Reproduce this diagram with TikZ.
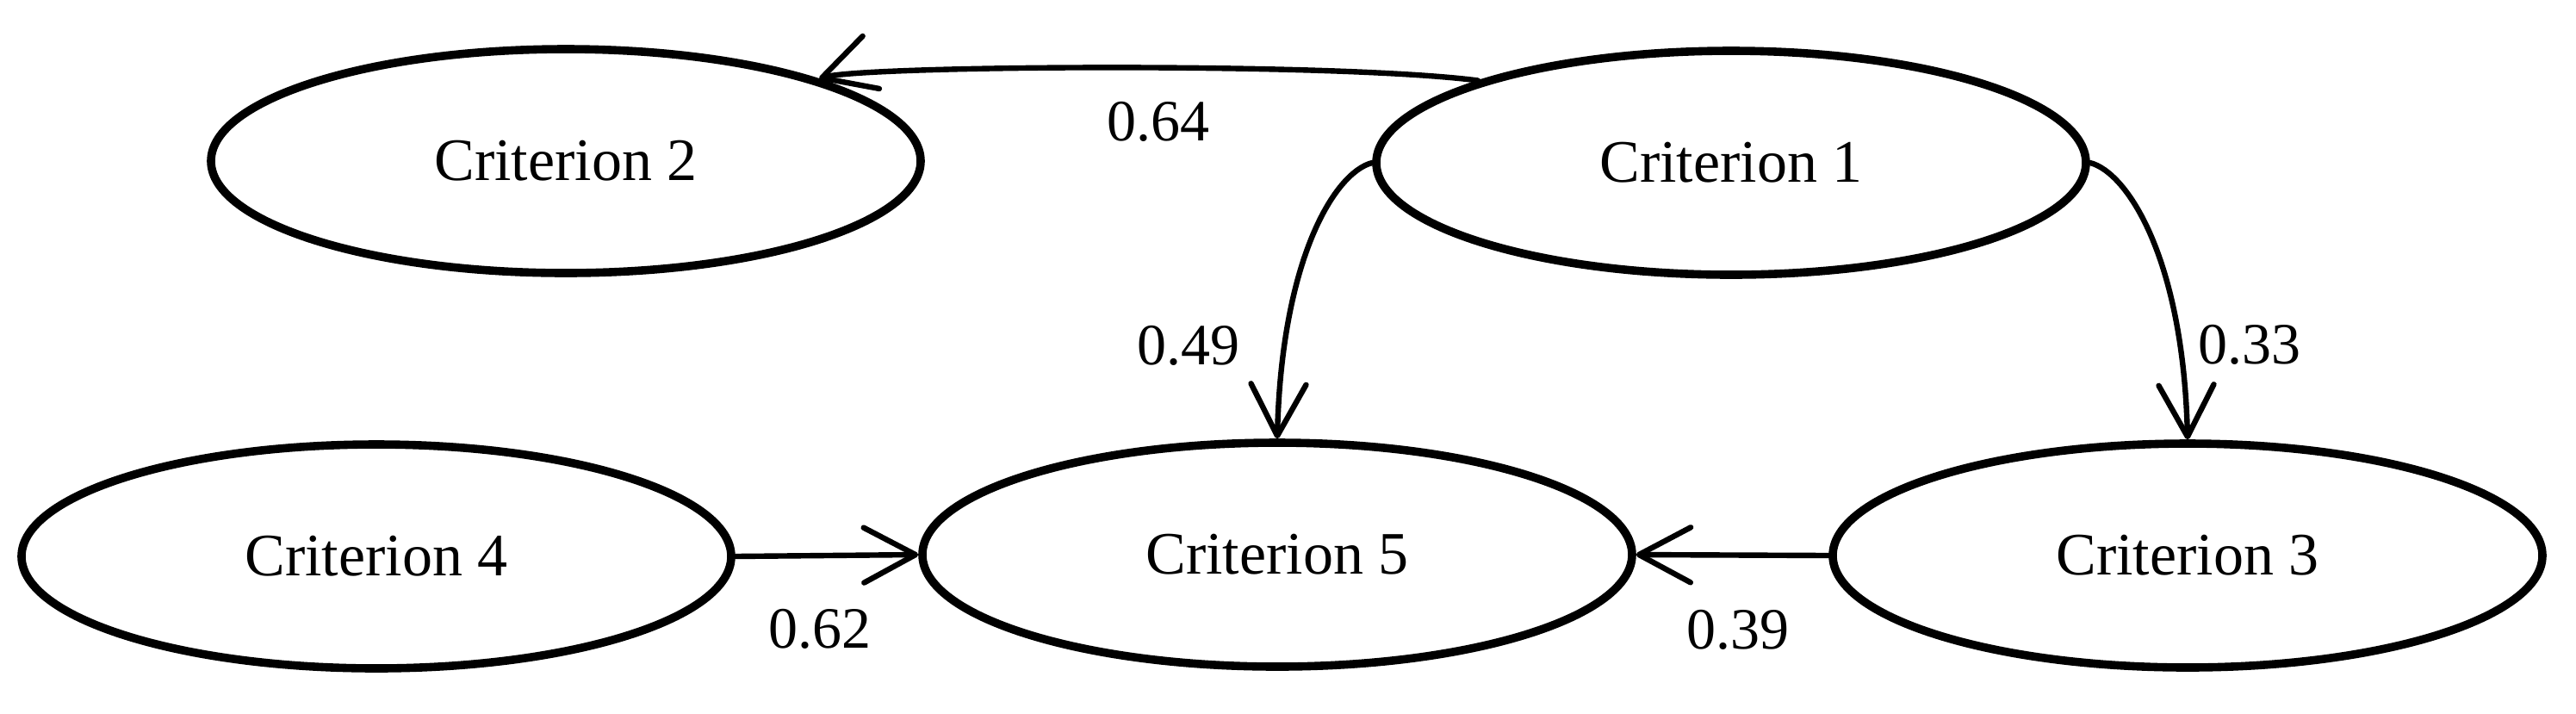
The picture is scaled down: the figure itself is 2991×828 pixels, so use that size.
\documentclass[tikz,border=0pt]{standalone}
\usepackage{fontspec}
\setmainfont{Liberation Serif}
\usetikzlibrary{shapes.geometric,arrows.meta}
\begin{document}
\begin{tikzpicture}[x=0.25pt,y=-0.25pt,
  crit/.style={draw, ellipse, line width=2.4pt, minimum width=206pt, minimum height=65pt, inner sep=0pt, font=\fontsize{17.5}{20}\selectfont},
  lab/.style={font=\fontsize{17}{20}\selectfont, inner sep=0pt},
  conn/.style={line width=1.6pt, line cap=round, -{Straight Barb[round,length=15pt,width=16pt]}}]
\useasboundingbox (0,0) rectangle (2991,828);
\node[crit] (C2) at (657,187) {Criterion 2};
\node[crit] (C1) at (2010,189) {Criterion 1};
\node[crit] (C4) at (437,646) {Criterion 4};
\node[crit] (C5) at (1483,644) {Criterion 5};
\node[crit] (C3) at (2540,645) {Criterion 3};
\draw[conn] (C1.162) .. controls (1550,72) and (1000,76) .. (C2.18);
\draw[conn] (C1.west) .. controls (1550,200) and (1488,300) .. (C5.north);
\draw[conn] (C1.east) .. controls (2470,200) and (2535,300) .. (C3.north);
\draw[conn] (C4.east) -- (C5.west);
\draw[conn] (C3.west) -- (C5.east);
\node[lab] (l64) at (1345,141) {0.64};
\node[lab] (l49) at (1380,401) {0.49};
\node[lab] (l33) at (2612,400) {0.33};
\node[lab] (l62) at (952,730) {0.62};
\node[lab] (l39) at (2018,731) {0.39};
\end{tikzpicture}
\end{document}
